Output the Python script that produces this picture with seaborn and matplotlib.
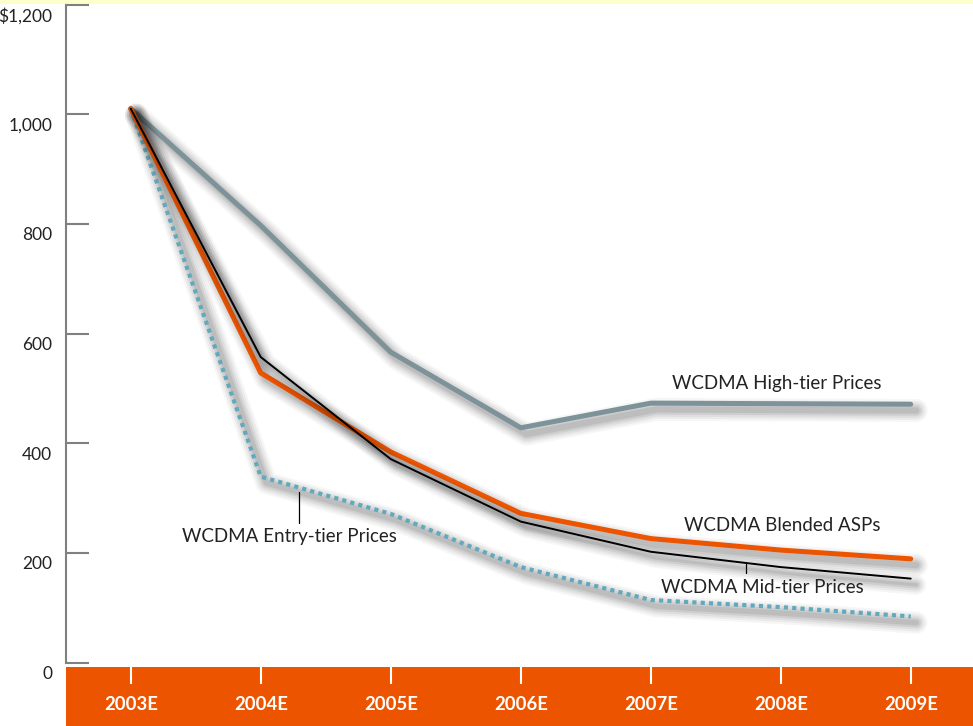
import pandas as pd
import numpy as np
import matplotlib
matplotlib.use("Agg")
import matplotlib.pyplot as plt
import matplotlib.patheffects as pe
from matplotlib.patches import Rectangle
from matplotlib.transforms import ScaledTranslation
import seaborn as sns

# data
years = ["2003E", "2004E", "2005E", "2006E", "2007E", "2008E", "2009E"]
high_tier = [1010, 797, 566, 428, 473, 472, 471]
blended = [1010, 528, 384, 272, 226, 205, 189]
mid_tier = [1010, 557, 371, 257, 202, 174, 153]
entry_tier = [1010, 339, 271, 174, 114, 101, 84]
yticks = [0, 200, 400, 600, 800, 1000, 1200]
ytick_labels = ["0", "200", "400", "600", "800", "1,000", "$1,200"]

sns.set_style("white")
plt.rcParams["font.family"] = ["Lato", "DejaVu Sans"]

fig = plt.figure(figsize=(9.73, 7.26), dpi=100)
ax = fig.add_axes([66 / 973, 63.5 / 726, 907 / 973, 658 / 726])

df = pd.DataFrame({"year": years, "high": high_tier, "blended": blended,
                   "mid": mid_tier, "entry": entry_tier})


def shadow(lw):
    fx = []
    for extra, a in [(13, 0.035), (10, 0.045), (7, 0.055), (4, 0.07), (1, 0.08)]:
        fx.append(pe.SimpleLineShadow(offset=(4, -4.5), shadow_color="black", alpha=a,
                                      linewidth=lw + extra, capstyle="round",
                                      dashes={"dash_offset": 0, "dash_list": None}))
    fx.append(pe.Normal())
    return fx


sns.lineplot(data=df, x="year", y="high", ax=ax, color="#7d9299", lw=3.6,
             path_effects=shadow(3.6), sort=False)
sns.lineplot(data=df, x="year", y="entry", ax=ax, color="#62a9bd", lw=3,
             linestyle=(0, (1, 1)), dash_capstyle="butt",
             path_effects=shadow(3), sort=False)
sns.lineplot(data=df, x="year", y="blended", ax=ax, color="#ec5400", lw=3.6,
             path_effects=shadow(3.6), sort=False)
sns.lineplot(data=df, x="year", y="mid", ax=ax, color="black", lw=1.4,
             path_effects=shadow(1.4), sort=False)

ax.set_xlim(-0.498, 6.479)
ax.set_ylim(0, 1200)
ax.set_xlabel("")
ax.set_ylabel("")

ax.set_yticks(yticks)
ax.set_yticklabels(ytick_labels)
ax.tick_params(axis="y", direction="in", length=16.5, width=1.5, color="#808080",
               labelsize=12.5, labelcolor="#222222", pad=10, left=True)
for t in ax.get_yticklabels():
    t.set_transform(t.get_transform() + ScaledTranslation(0, -0.1, fig.dpi_scale_trans))

ax.tick_params(axis="x", direction="out", length=14.8, width=1.5, color="white",
               labelsize=13.3, labelcolor="white", pad=9, bottom=True)
for t in ax.get_xticklabels():
    t.set_fontweight("bold")

sns.despine(ax=ax, top=True, right=True, bottom=True)
ax.spines["left"].set_color("#808080")
ax.spines["left"].set_linewidth(1.5)

# orange band behind the category labels, pale strip at top
fig.add_artist(Rectangle((66 / 973, 0), 907 / 973, 59 / 726, transform=fig.transFigure,
                         facecolor="#ec5400", edgecolor="none", zorder=-1))
fig.add_artist(Rectangle((0, 722 / 726), 1, 4 / 726, transform=fig.transFigure,
                         facecolor="#ffffcc", edgecolor="none", zorder=-1))

lab = dict(fontsize=13.5, color="#222222", ha="center", va="center")
ax.text(4.97, 508, "WCDMA High-tier Prices", **lab)
ax.text(5.01, 249, "WCDMA Blended ASPs", **lab)
ax.text(4.86, 136, "WCDMA Mid-tier Prices", **lab)
ax.text(1.22, 229, "WCDMA Entry-tier Prices", **lab)
ax.plot([4.73, 4.73], [180, 163], color="black", lw=0.9)
ax.plot([1.295, 1.295], [311, 254], color="black", lw=0.9)

fig.savefig("out.png", dpi=100)
